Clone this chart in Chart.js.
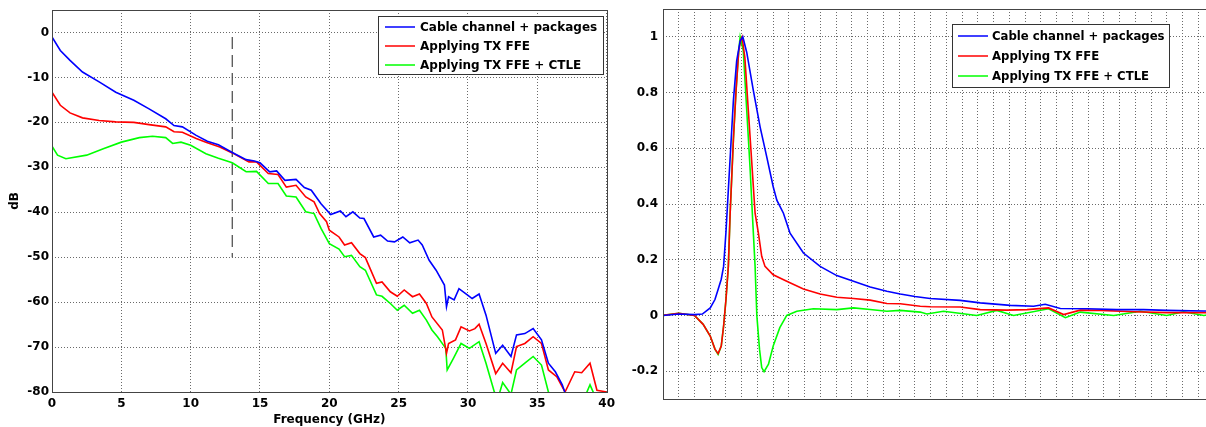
<!DOCTYPE html>
<html>
<head>
<meta charset="utf-8">
<script src="https://cdn.jsdelivr.net/npm/chart.js@4.4.0/dist/chart.umd.min.js"></script>
<style>
  html, body { margin: 0; padding: 0; background: #fff; overflow: hidden; width: 1206px; height: 427px; }
  #left { position: absolute; left: 0; top: 0; }
  #right { position: absolute; left: 615px; top: 0; }
</style>
</head>
<body>
<canvas id="left" width="620" height="427"></canvas>
<canvas id="right" width="601" height="427"></canvas>
<script>
// legend labels (same for both panels)
const labels = ["Cable channel + packages", "Applying TX FFE", "Applying TX FFE + CTLE"];
const colors = ["#0000ff", "#ff0000", "#00ff00"];

// ---- left panel: frequency response (GHz, dB) ----
const blueFreq = [0, 0.6, 1.3, 2.2, 3.4, 4.6, 5.9, 7.0, 8.2, 8.8, 9.4, 10.4, 11.2, 12.0, 13.0, 14.0, 14.6, 15.0, 15.7, 16.2, 16.8, 17.6, 18.2, 18.7, 19.4, 20.1, 20.8, 21.2, 21.7, 22.2, 22.5, 23.2, 23.7, 24.2, 24.7, 25.3, 25.8, 26.4, 26.7, 27.2, 27.7, 28.3, 28.45, 28.6, 29.0, 29.35, 29.95, 30.3, 30.8, 31.3, 32.0, 32.5, 33.1, 33.5, 34.1, 34.7, 35.3, 35.8, 36.3, 36.8, 37.0, 37.5, 38.5, 40];
const blueDb = [-1.0, -4.0, -6.2, -8.8, -11.0, -13.3, -15.1, -17.0, -19.2, -20.7, -21.0, -22.9, -24.2, -25.0, -26.7, -28.3, -28.6, -29.0, -31.0, -30.8, -32.9, -32.7, -34.5, -35.1, -38.1, -40.5, -39.7, -41.0, -39.9, -41.3, -41.4, -45.5, -45.1, -46.4, -46.6, -45.5, -46.8, -46.2, -47.3, -50.7, -52.9, -56.2, -61.0, -58.8, -59.5, -57.0, -58.4, -59.2, -58.2, -62.9, -71.4, -69.6, -72.1, -67.3, -67.0, -65.9, -68.4, -73.6, -75.5, -78.4, -80.2, -81, -82, -82];

const redFreq = [0, 0.6, 1.3, 2.2, 3.4, 4.6, 5.9, 7.0, 8.2, 8.8, 9.4, 10.4, 11.1, 12.1, 13.0, 14.2, 14.75, 15.6, 16.3, 16.9, 17.6, 18.3, 18.9, 19.3, 19.8, 20.0, 20.7, 21.1, 21.6, 22.2, 22.6, 23.4, 23.8, 24.4, 24.9, 25.4, 26.0, 26.5, 27.0, 27.4, 28.15, 28.45, 28.6, 29.1, 29.5, 30.1, 30.5, 30.8, 31.3, 32.0, 32.5, 33.1, 33.5, 34.1, 34.7, 35.3, 35.8, 36.4, 37.0, 37.7, 38.2, 38.8, 39.3, 40];
const redDb = [-13.3, -16.2, -17.9, -19.0, -19.6, -19.9, -20.0, -20.5, -21.0, -22.1, -22.2, -23.6, -24.4, -25.5, -26.8, -28.8, -28.8, -31.4, -31.6, -34.4, -34.0, -36.6, -37.7, -40.3, -42.1, -44.0, -45.5, -47.3, -46.8, -49.2, -50.1, -55.8, -55.5, -57.7, -58.7, -57.3, -58.8, -58.2, -60.3, -63.3, -66.2, -71.4, -69.2, -68.4, -65.5, -66.4, -65.9, -64.9, -69.2, -75.9, -73.6, -75.7, -69.9, -69.2, -67.7, -69.2, -75.1, -76.6, -80.0, -75.5, -75.7, -73.6, -79.6, -80];

const greenFreq = [0, 0.4, 1.0, 2.5, 3.7, 5.0, 6.3, 7.25, 8.2, 8.7, 9.3, 10.0, 11.1, 12.0, 13.0, 14.0, 14.75, 15.6, 16.3, 16.9, 17.6, 18.3, 18.9, 19.4, 20.0, 20.7, 21.1, 21.6, 22.2, 22.6, 23.4, 23.8, 24.4, 24.9, 25.4, 26.0, 26.5, 27.0, 27.4, 27.8, 28.4, 28.5, 28.95, 29.5, 30.1, 30.8, 31.3, 31.9, 32.2, 32.5, 33.1, 33.5, 34.1, 34.7, 35.3, 35.8, 36.3, 38.3, 38.8, 39.1, 40];
const greenDb = [-25.3, -27.3, -28.1, -27.3, -25.9, -24.4, -23.4, -23.1, -23.4, -24.7, -24.4, -25.1, -27.0, -28.0, -29.0, -31.0, -30.9, -33.6, -33.6, -36.4, -36.6, -39.9, -40.3, -43.6, -47.0, -48.2, -49.9, -49.6, -52.1, -52.9, -58.4, -58.7, -60.3, -61.8, -60.7, -62.5, -61.8, -64.0, -66.2, -67.7, -70.3, -75.1, -72.5, -69.2, -70.3, -68.8, -73.6, -80.0, -81, -77.9, -80.5, -75.1, -73.6, -72.1, -74.0, -80.0, -82, -82, -78.4, -80.5, -82];

// dashed marker line at 13 GHz
const markerFreq = [13, 13];
const markerDb = [-1, -50];

// ---- right panel: pulse response (UI, normalized) ----
const blueUi = [0, 1, 2, 2.5, 3, 3.3, 3.5, 3.7, 3.85, 4.0, 4.15, 4.3, 4.47, 4.68, 4.9, 5.07, 5.32, 5.74, 6.17, 6.59, 7.0, 7.23, 7.65, 8.07, 8.92, 9.98, 11.04, 12.1, 13.16, 14.22, 15.07, 16.0, 16.97, 18.88, 20.15, 22.06, 23.54, 24.28, 25.24, 26.94, 28.84, 30.53, 32.0, 34.35, 35];
const bluePulse = [0, 0.005, 0.003, 0.005, 0.027, 0.057, 0.093, 0.13, 0.176, 0.3, 0.45, 0.6, 0.77, 0.914, 0.985, 1.0, 0.944, 0.807, 0.676, 0.569, 0.462, 0.414, 0.367, 0.295, 0.224, 0.176, 0.143, 0.123, 0.102, 0.087, 0.077, 0.068, 0.061, 0.054, 0.045, 0.036, 0.033, 0.04, 0.025, 0.024, 0.021, 0.021, 0.018, 0.016, 0.016];

const redUi = [0, 1, 2, 2.55, 3, 3.3, 3.5, 3.7, 3.85, 4.0, 4.15, 4.26, 4.47, 4.64, 4.81, 4.94, 5.02, 5.2, 5.42, 5.63, 5.85, 6.06, 6.27, 6.48, 7.0, 7.86, 8.92, 9.98, 11.04, 12.1, 13.16, 14.22, 15.07, 16.34, 16.97, 18.88, 20.15, 21.85, 23.12, 24.49, 25.45, 26.5, 27.78, 29.9, 32.0, 34.35, 35];
const redPulse = [0, 0.008, 0.0, -0.032, -0.074, -0.121, -0.137, -0.11, -0.038, 0.057, 0.176, 0.36, 0.63, 0.807, 0.95, 0.99, 1.0, 0.926, 0.736, 0.557, 0.367, 0.295, 0.212, 0.176, 0.146, 0.123, 0.095, 0.077, 0.065, 0.061, 0.055, 0.043, 0.042, 0.033, 0.031, 0.030, 0.021, 0.019, 0.021, 0.027, 0.003, 0.019, 0.018, 0.013, 0.01, 0.01, 0.01];

const greenUi = [0, 1, 2, 2.55, 3, 3.3, 3.5, 3.7, 3.85, 4.0, 4.15, 4.26, 4.47, 4.64, 4.81, 4.9, 5.1, 5.32, 5.53, 5.68, 5.85, 5.96, 6.13, 6.27, 6.42, 6.7, 7.0, 7.42, 7.86, 8.5, 9.55, 11.04, 12.1, 13.16, 14.22, 15.07, 16.34, 16.76, 17.82, 19.93, 21.2, 22.27, 24.49, 25.56, 26.5, 28.63, 30.32, 32, 33.06, 34.35, 35];
const greenPulse = [0, 0.008, 0.0, -0.032, -0.074, -0.121, -0.14, -0.11, -0.038, 0.057, 0.176, 0.36, 0.63, 0.807, 0.95, 1.0, 0.95, 0.736, 0.53, 0.36, 0.176, 0.0, -0.121, -0.187, -0.202, -0.175, -0.11, -0.044, 0.0, 0.015, 0.024, 0.021, 0.027, 0.021, 0.015, 0.018, 0.012, 0.005, 0.015, 0.0, 0.018, 0.0, 0.024, -0.008, 0.012, 0.0, 0.015, 0.0, 0.013, 0.0, 0.005];

// tick values shown on the axes
const freqTicks = [0, 5, 10, 15, 20, 25, 30, 35, 40];
const dbTicks = [-80, -70, -60, -50, -40, -30, -20, -10, 0];
const uiTicks = Array.from({ length: 36 }, (_, i) => i); // grid every UI, no labels
const pulseTicks = [-0.2, 0, 0.2, 0.4, 0.6, 0.8, 1];

const pts = (xs, ys) => xs.map((x, i) => ({ x: x, y: ys[i] }));
const setTicks = vals => s => { s.ticks = vals.map(v => ({ value: v })); };
// fixed axis width, and no extra padding added for the end labels
const fixWidth = w => s => { s.width = w; s.paddingTop = 0; s.paddingBottom = 0; };

Chart.defaults.font.family = "'DejaVu Sans', sans-serif";
Chart.defaults.font.weight = "bold";
Chart.defaults.font.size = 12;
Chart.defaults.color = "#000";

// frame box + legend drawn inside plot area (matlab style)
const framePlugin = {
  id: "frameLegend",
  afterDatasetsDraw(chart, args, opts) {
    const ctx = chart.ctx;
    const a = chart.chartArea;
    ctx.save();
    ctx.strokeStyle = "#444";
    ctx.lineWidth = 1;
    ctx.setLineDash([]);
    ctx.strokeRect(Math.round(a.left) + 0.5, Math.round(a.top) + 0.5, Math.round(a.width), Math.round(a.height));

    const bx = Math.round(a.left + opts.x), by = Math.round(a.top + opts.y);
    ctx.fillStyle = "#fff";
    ctx.fillRect(bx, by, opts.w, opts.h);
    ctx.strokeStyle = "#333";
    ctx.strokeRect(bx + 0.5, by + 0.5, opts.w, opts.h);
    ctx.font = "bold " + opts.size + "px 'DejaVu Sans', sans-serif";
    ctx.textBaseline = "middle";
    ctx.textAlign = "left";
    let row = 0;
    chart.data.datasets.forEach(ds => {
      if (!ds.inLegend) return;
      const y = by + opts.first + row * opts.row;
      ctx.strokeStyle = ds.borderColor;
      ctx.lineWidth = 1.5;
      ctx.beginPath();
      ctx.moveTo(bx + opts.l0, y);
      ctx.lineTo(bx + opts.l1, y);
      ctx.stroke();
      ctx.fillStyle = "#000";
      ctx.fillText(ds.label, bx + opts.tx, y + 1);
      row++;
    });
    ctx.restore();
  }
};

function lineSet(label, color, data) {
  return {
    label: label,
    data: data,
    borderColor: color,
    backgroundColor: color,
    borderWidth: 1.6,
    pointRadius: 0,
    tension: 0,
    fill: false,
    inLegend: true
  };
}

const gridStyle = { color: "#6a6a6a", lineWidth: 1, drawTicks: false };
const dotted = { display: false, dash: [1, 2] };

// left chart
new Chart(document.getElementById("left"), {
  type: "line",
  data: {
    datasets: [
      lineSet(labels[0], colors[0], pts(blueFreq, blueDb)),
      lineSet(labels[1], colors[1], pts(redFreq, redDb)),
      lineSet(labels[2], colors[2], pts(greenFreq, greenDb)),
      {
        label: "",
        data: pts(markerFreq, markerDb),
        borderColor: "#444",
        borderWidth: 1.2,
        borderDash: [12, 6],
        pointRadius: 0,
        inLegend: false
      }
    ]
  },
  plugins: [framePlugin],
  options: {
    responsive: false,
    animation: false,
    layout: { padding: { left: 4, right: 12, top: 10, bottom: 0 } },
    plugins: {
      legend: { display: false },
      tooltip: { enabled: false },
      frameLegend: { x: 326, y: 6, w: 225, h: 58, first: 11, row: 19, l0: 7, l1: 37, tx: 42, size: 12 }
    },
    scales: {
      x: {
        type: "linear",
        min: 0, max: 40,
        ticks: { padding: 5, maxRotation: 0, autoSkip: false },
        afterBuildTicks: setTicks(freqTicks),
        grid: gridStyle,
        border: dotted,
        title: { display: true, text: "Frequency (GHz)", padding: { top: 0, bottom: 0 }, font: { size: 12, weight: "bold" } },
        afterFit: s => { s.height = 35; }
      },
      y: {
        type: "linear",
        min: -80, max: 5,
        ticks: { padding: 3 },
        afterBuildTicks: setTicks(dbTicks),
        grid: gridStyle,
        border: dotted,
        title: { display: true, text: "dB", padding: { top: 4, bottom: 0 }, font: { size: 12, weight: "bold" } },
        afterFit: fixWidth(48)
      }
    }
  }
});

// right chart
new Chart(document.getElementById("right"), {
  type: "line",
  data: {
    datasets: [
      lineSet(labels[0], colors[0], pts(blueUi, bluePulse)),
      lineSet(labels[1], colors[1], pts(redUi, redPulse)),
      lineSet(labels[2], colors[2], pts(greenUi, greenPulse))
    ]
  },
  plugins: [framePlugin],
  options: {
    responsive: false,
    animation: false,
    layout: { padding: { left: 0, right: 2, top: 9, bottom: 0 } },
    plugins: {
      legend: { display: false },
      tooltip: { enabled: false },
      frameLegend: { x: 289, y: 15, w: 217, h: 63, first: 12, row: 20, l0: 6, l1: 36, tx: 40, size: 11.7 }
    },
    scales: {
      x: {
        type: "linear",
        min: 0, max: 35,
        ticks: { display: false, autoSkip: false },
        afterBuildTicks: setTicks(uiTicks),
        grid: gridStyle,
        border: dotted,
        afterFit: s => { s.height = 28; }
      },
      y: {
        type: "linear",
        min: -0.3, max: 1.1,
        ticks: { padding: 5, callback: v => String(Math.round(v * 10) / 10) },
        afterBuildTicks: setTicks(pulseTicks),
        grid: gridStyle,
        border: dotted,
        afterFit: fixWidth(48)
      }
    }
  }
});
</script>
</body>
</html>
